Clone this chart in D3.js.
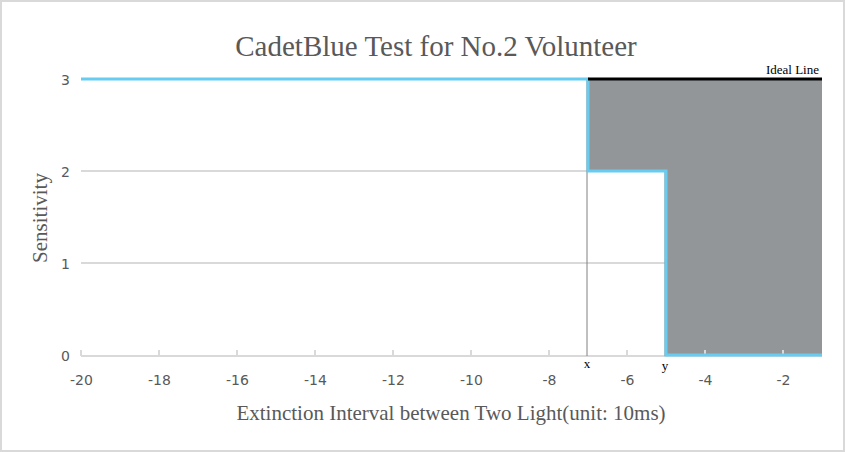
<!DOCTYPE html>
<html>
<head>
<meta charset="utf-8">
<script src="https://cdn.jsdelivr.net/npm/d3@7"></script>
<style>
  body { margin: 0; background: #fff; }
  .tick text { font-family: "DejaVu Sans", "Noto Sans", sans-serif; font-size: 14px; fill: #595959; }
  .serif { font-family: "Liberation Serif", "Times New Roman", serif; }
</style>
</head>
<body>
<svg id="chart" width="845" height="452"></svg>
<script>
/*
CADETBLUE TEST: measured step line vs ideal line
*/

// measured sensitivity (step line)
const intervals = [-20, -7, -7, -5, -5, -1];
const sensitivity = [3, 3, 2, 2, 0, 0];

// ideal line
const idealX = [-7, -1];
const idealY = [3, 3];

// marker points under the axis
const markerNames = ["x", "y"];
const markerX = [-7, -5];

const xTicks = [-20, -18, -16, -14, -12, -10, -8, -6, -4, -2];
const yTicks = [0, 1, 2, 3];

const width = 845;
const height = 452;
const chart = d3.select("#chart");

const x = d3.scaleLinear().domain([-20, -1]).range([81, 822]);
const y = d3.scaleLinear().domain([0, 3]).range([355, 79]);

// outer border
chart
  .append("rect")
  .attr("x", 1)
  .attr("y", 1)
  .attr("width", width - 2)
  .attr("height", height - 2)
  .attr("fill", "#fff")
  .attr("stroke", "#d9d9d9")
  .attr("stroke-width", 2);

// horizontal gridlines
chart
  .append("g")
  .selectAll("line")
  .data(yTicks.filter((d) => d > 0))
  .enter()
  .append("line")
  .attr("x1", x(-20))
  .attr("x2", x(-1))
  .attr("y1", (d) => y(d))
  .attr("y2", (d) => y(d))
  .attr("stroke", "#d9d9d9")
  .attr("stroke-width", 2);

// shaded gap between ideal and measured
const points = intervals.map((v, i) => ({ x: v, s: sensitivity[i] }));
const gap = points.filter((d) => d.x >= idealX[0]);
const area = d3
  .area()
  .x((d) => x(d.x))
  .y0((d) => y(d.s))
  .y1(y(idealY[0]));

chart.append("path").datum(gap).attr("d", area).attr("fill", "#939699");

// x axis
const xAxis = d3
  .axisBottom(x)
  .tickValues(xTicks)
  .tickSize(0)
  .tickPadding(24)
  .tickFormat((d) => d);

const xg = chart
  .append("g")
  .attr("transform", `translate(0,${y(0) + 1})`)
  .call(xAxis);
xg.select(".domain").remove();
xg.selectAll(".tick text").attr("dy", "0.35em");

chart
  .append("line")
  .attr("x1", x(-20))
  .attr("x2", x(-1))
  .attr("y1", y(0) + 1)
  .attr("y2", y(0) + 1)
  .attr("stroke", "#d9d9d9")
  .attr("stroke-width", 2);

// small upward tick marks
chart
  .append("g")
  .selectAll("line")
  .data(xTicks)
  .enter()
  .append("line")
  .attr("x1", (d) => x(d))
  .attr("x2", (d) => x(d))
  .attr("y1", y(0) + 1)
  .attr("y2", y(0) - 5)
  .attr("stroke", "#d9d9d9")
  .attr("stroke-width", 2);

// y axis labels
const yAxis = d3
  .axisLeft(y)
  .tickValues(yTicks)
  .tickSize(0)
  .tickPadding(0)
  .tickFormat(d3.format("d"));
const yg = chart.append("g").attr("transform", "translate(70,1)").call(yAxis);
yg.select(".domain").remove();

// marker guide lines
chart
  .append("g")
  .selectAll("line")
  .data(markerX)
  .enter()
  .append("line")
  .attr("x1", (d) => x(d) - 1)
  .attr("x2", (d) => x(d) - 1)
  .attr("y1", (d, i) => (i === 0 ? y(3) : y(2)))
  .attr("y2", y(0) + 1)
  .attr("stroke", "#808080")
  .attr("stroke-width", 1);

chart
  .append("g")
  .selectAll("text")
  .data(markerX)
  .enter()
  .append("text")
  .attr("class", "serif")
  .attr("x", (d) => x(d) - 1)
  .attr("y", (d, i) => 368 + i * 2)
  .attr("text-anchor", "middle")
  .attr("font-size", 13)
  .attr("fill", "#000")
  .text((d, i) => markerNames[i]);

// measured line
const line = d3
  .line()
  .x((d) => x(d.x))
  .y((d) => y(d.s));

chart
  .append("path")
  .datum(points)
  .attr("d", line)
  .attr("fill", "none")
  .attr("stroke", "#66ccf0")
  .attr("stroke-width", 3);

// ideal line
chart
  .append("path")
  .datum(idealX.map((v, i) => ({ x: v, s: idealY[i] })))
  .attr("d", line)
  .attr("fill", "none")
  .attr("stroke", "#000")
  .attr("stroke-width", 3);

chart
  .append("text")
  .attr("class", "serif")
  .attr("x", x(-1) - 3)
  .attr("y", y(3) - 5)
  .attr("text-anchor", "end")
  .attr("font-size", 13)
  .attr("fill", "#000")
  .text("Ideal Line");

// titles
chart
  .append("text")
  .attr("class", "serif")
  .attr("x", 436)
  .attr("y", 56)
  .attr("text-anchor", "middle")
  .attr("font-size", 29)
  .attr("fill", "#595959")
  .text("CadetBlue Test for No.2 Volunteer");

chart
  .append("text")
  .attr("class", "serif")
  .attr("x", 451)
  .attr("y", 420)
  .attr("text-anchor", "middle")
  .attr("font-size", 21)
  .attr("fill", "#595959")
  .text("Extinction Interval between Two Light(unit: 10ms)");

chart
  .append("text")
  .attr("class", "serif")
  .attr("transform", "translate(47,218) rotate(-90)")
  .attr("text-anchor", "middle")
  .attr("font-size", 21)
  .attr("fill", "#595959")
  .text("Sensitivity");
</script>
</body>
</html>
